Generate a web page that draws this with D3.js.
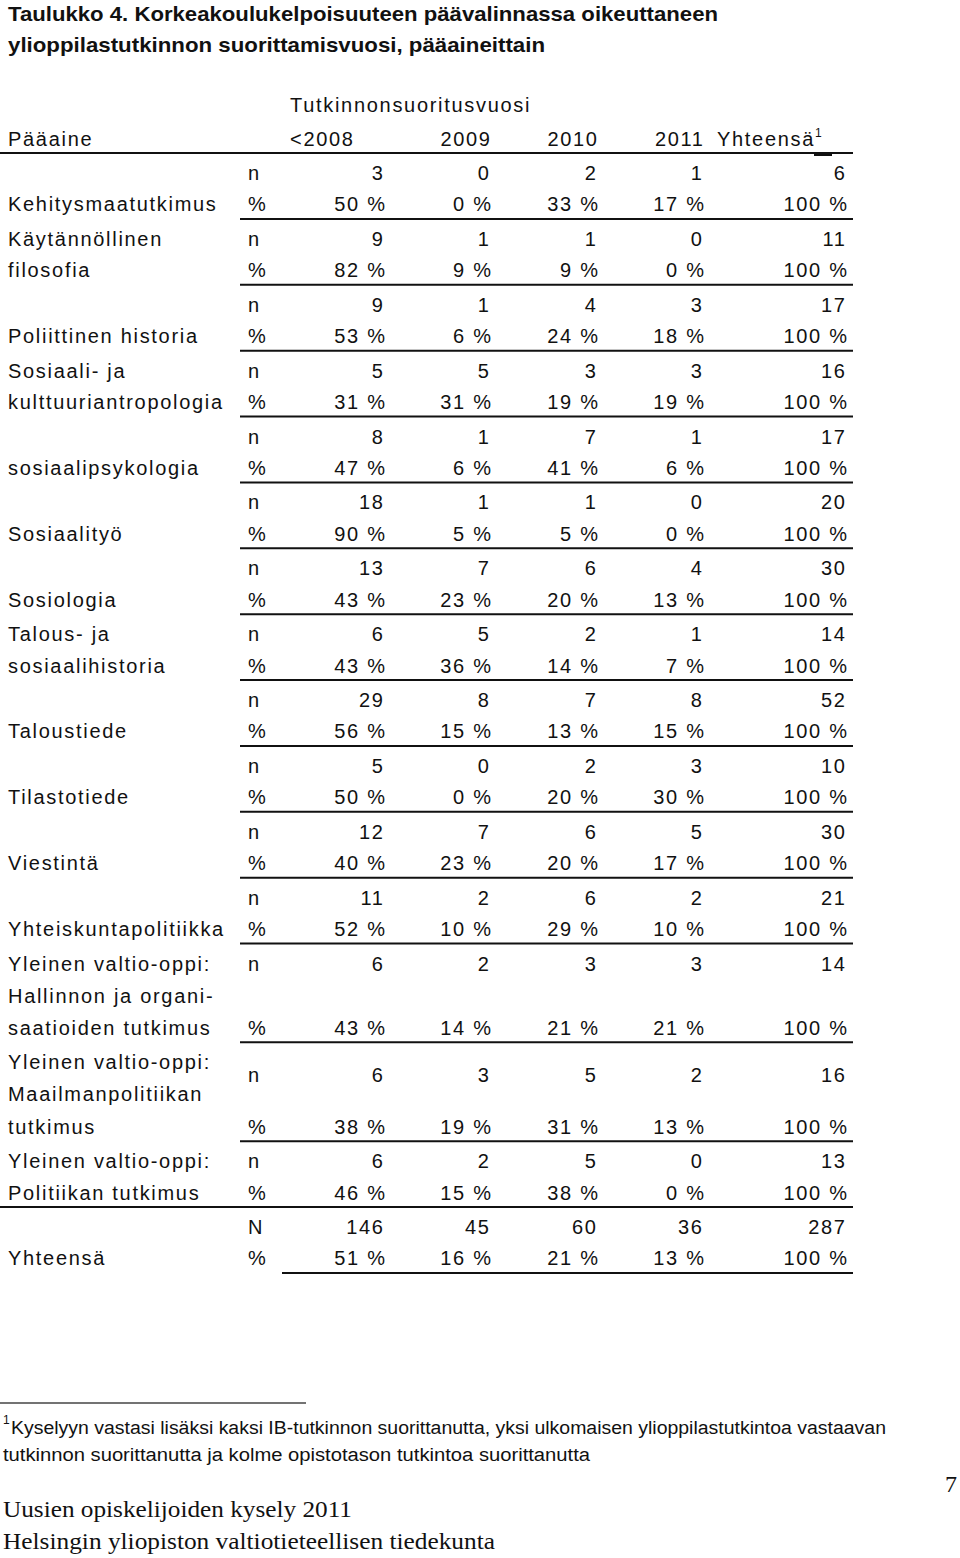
<!DOCTYPE html>
<html>
<head>
<meta charset="utf-8">
<script src="https://cdn.jsdelivr.net/npm/d3@7"></script>
<style>
  body { margin: 0; background: #fff; }
  svg text { fill: #111; }
  .body { font-family: "Liberation Sans", Arial, sans-serif; font-size: 20px; letter-spacing: 1.7px; }
  .title { font-family: "Liberation Sans", Arial, sans-serif; font-size: 21px; font-weight: bold; }
  .note { font-family: "Liberation Sans", Arial, sans-serif; font-size: 18px; }
  .serif { font-family: "Liberation Serif", "Times New Roman", serif; font-size: 24px; }
</style>
</head>
<body>
<div id="chart"></div>
<script>
// table content
let titleLines = [
  "Taulukko 4. Korkeakoulukelpoisuuteen päävalinnassa oikeuttaneen",
  "ylioppilastutkinnon suorittamisvuosi, pääaineittain"
];
let spanHeader = "Tutkinnonsuoritusvuosi";
let firstHeader = "Pääaine";
let columns = ["<2008", "2009", "2010", "2011", "Yhteensä"];

// label lines per subject (first line sits on the n row, last on the % row)
let subjects = [
  ["", "Kehitysmaatutkimus"],
  ["Käytännöllinen", "filosofia"],
  ["", "Poliittinen historia"],
  ["Sosiaali- ja", "kulttuuriantropologia"],
  ["", "sosiaalipsykologia"],
  ["", "Sosiaalityö"],
  ["", "Sosiologia"],
  ["Talous- ja", "sosiaalihistoria"],
  ["", "Taloustiede"],
  ["", "Tilastotiede"],
  ["", "Viestintä"],
  ["", "Yhteiskuntapolitiikka"],
  ["Yleinen valtio-oppi:", "Hallinnon ja organi-", "saatioiden tutkimus"],
  ["Yleinen valtio-oppi:", "Maailmanpolitiikan", "tutkimus"],
  ["Yleinen valtio-oppi:", "Politiikan tutkimus"]
];
let nValues = [
  [3, 0, 2, 1, 6],
  [9, 1, 1, 0, 11],
  [9, 1, 4, 3, 17],
  [5, 5, 3, 3, 16],
  [8, 1, 7, 1, 17],
  [18, 1, 1, 0, 20],
  [13, 7, 6, 4, 30],
  [6, 5, 2, 1, 14],
  [29, 8, 7, 8, 52],
  [5, 0, 2, 3, 10],
  [12, 7, 6, 5, 30],
  [11, 2, 6, 2, 21],
  [6, 2, 3, 3, 14],
  [6, 3, 5, 2, 16],
  [6, 2, 5, 0, 13]
];
let pctValues = [
  [50, 0, 33, 17, 100],
  [82, 9, 9, 0, 100],
  [53, 6, 24, 18, 100],
  [31, 31, 19, 19, 100],
  [47, 6, 41, 6, 100],
  [90, 5, 5, 0, 100],
  [43, 23, 20, 13, 100],
  [43, 36, 14, 7, 100],
  [56, 15, 13, 15, 100],
  [50, 0, 20, 30, 100],
  [40, 23, 20, 17, 100],
  [52, 10, 29, 10, 100],
  [43, 14, 21, 21, 100],
  [38, 19, 31, 13, 100],
  [46, 15, 38, 0, 100]
];
let totalLabel = "Yhteensä";
let totalN = [146, 45, 60, 36, 287];
let totalPct = [51, 16, 21, 13, 100];

let footnote = [
  "Kyselyyn vastasi lisäksi kaksi IB-tutkinnon suorittanutta, yksi ulkomaisen ylioppilastutkintoa vastaavan",
  "tutkinnon suorittanutta ja kolme opistotason tutkintoa suorittanutta"
];
let footer = ["Uusien opiskelijoiden kysely 2011", "Helsingin yliopiston valtiotieteellisen tiedekunta"];
let pageNumber = "7";

// dimensions
let width = 960, height = 1558;
let ls = 1.7; // letter spacing, shifts right aligned text

let svg = d3.select("#chart").append("svg")
  .attr("width", width)
  .attr("height", height);

// groups: subjects + total row
let groups = subjects.map((s, i) => ({lines: s, n: nValues[i], pct: pctValues[i], nLabel: "n"}));
groups.push({lines: ["", totalLabel], n: totalN, pct: totalPct, nLabel: "N", total: true});

// vertical layout: each group takes max(2, lines) units
groups.forEach(g => g.units = Math.max(2, g.lines.length));
let cum = 0;
groups.forEach(g => { g.start = cum; cum += g.units; g.end = cum; });
let lastSubject = groups[groups.length - 2].end;
let y = d3.scaleLinear().domain([0, lastSubject]).range([153, 1207]);

// columns (right edges of numbers)
let x = d3.scaleOrdinal().domain(columns).range([385, 491, 598, 704, 847]);
let unitX = 248, labelX = 8, lineStart = 240, lineEnd = 853;

// title
svg.selectAll("text.title")
  .data(titleLines)
  .enter().append("text")
  .attr("class", "title")
  .attr("x", 8)
  .attr("y", (d, i) => 21 + i * 31)
  .attr("textLength", (d, i) => i === 0 ? 710 : 537)
  .attr("lengthAdjust", "spacingAndGlyphs")
  .text(d => d);

// header
let header = svg.append("g").attr("class", "body");
header.append("text").attr("x", 290).attr("y", 112).text(spanHeader);
header.append("text").attr("x", labelX).attr("y", 146).text(firstHeader);
header.selectAll("text.col")
  .data(columns)
  .enter().append("text")
  .attr("class", "col")
  .attr("x", (d, i) => i === 0 ? 290 : (i === 4 ? 717 : x(d) + ls - 1))
  .attr("y", 146)
  .attr("text-anchor", (d, i) => (i === 0 || i === 4) ? "start" : "end")
  .text(d => d);
header.append("text")
  .attr("x", 815).attr("y", 137)
  .style("font-size", "12px").style("letter-spacing", "0px")
  .text("1");

// rules
svg.append("line")
  .attr("x1", 0).attr("x2", lineEnd)
  .attr("y1", 153).attr("y2", 153)
  .attr("stroke", "#111").attr("stroke-width", 2);
svg.append("line")
  .attr("x1", 814).attr("x2", 832)
  .attr("y1", 154.5).attr("y2", 154.5)
  .attr("stroke", "#111").attr("stroke-width", 3);

// group edges in px
groups.forEach(g => {
  g.top = g.total ? y(lastSubject) : y(g.start);
  g.bottom = g.total ? g.top + (y(2) - y(0)) : y(g.end);
});

function rowY(g, k) {
  // baseline for label line k inside the group
  let first = g.top + 27, last = g.bottom - 7.5;
  let count = Math.max(2, g.lines.length);
  return first + (last - first) * k / (count - 1);
}

let rows = svg.selectAll("g.group")
  .data(groups)
  .enter().append("g")
  .attr("class", "group body");

rows.each(function(g, gi) {
  let el = d3.select(this);
  let last = Math.max(2, g.lines.length) - 1;
  // n row sits a little lower beside the Maailmanpolitiikan block
  let nAt = gi === 13 ? 0.4 : 0;

  el.selectAll("text.label")
    .data(g.lines)
    .enter().append("text")
    .attr("class", "label")
    .attr("x", labelX)
    .attr("y", (d, k) => rowY(g, k))
    .text(d => d);

  el.append("text").attr("x", unitX).attr("y", rowY(g, nAt)).text(g.nLabel);
  el.append("text").attr("x", unitX).attr("y", rowY(g, last)).text("%");

  el.selectAll("text.n")
    .data(g.n)
    .enter().append("text")
    .attr("class", "n")
    .attr("x", (d, i) => x(columns[i]) + ls - 2)
    .attr("y", rowY(g, nAt))
    .attr("text-anchor", "end")
    .text(d => d);

  el.selectAll("text.pct")
    .data(g.pct)
    .enter().append("text")
    .attr("class", "pct")
    .attr("x", (d, i) => x(columns[i]) + ls)
    .attr("y", rowY(g, last))
    .attr("text-anchor", "end")
    .text(d => d + " %");

  el.append("line")
    .attr("x1", g.total ? 282 : (gi === groups.length - 2 ? 0 : lineStart))
    .attr("x2", lineEnd)
    .attr("y1", g.bottom).attr("y2", g.bottom)
    .attr("stroke", "#111").attr("stroke-width", 2);
});

// footnote
svg.append("line")
  .attr("x1", 0).attr("x2", 306)
  .attr("y1", 1403).attr("y2", 1403)
  .attr("stroke", "#444").attr("stroke-width", 1.5);
svg.append("text").attr("class", "note")
  .attr("x", 3).attr("y", 1424)
  .style("font-size", "12px")
  .text("1");
svg.selectAll("text.fn")
  .data(footnote)
  .enter().append("text")
  .attr("class", "note fn")
  .attr("x", (d, i) => i === 0 ? 11 : 3)
  .attr("y", (d, i) => 1434 + i * 27)
  .attr("textLength", (d, i) => i === 0 ? 875 : 587)
  .attr("lengthAdjust", "spacingAndGlyphs")
  .text(d => d);

// page footer
svg.append("text").attr("class", "serif")
  .attr("x", 957).attr("y", 1492)
  .attr("text-anchor", "end")
  .text(pageNumber);
svg.selectAll("text.foot")
  .data(footer)
  .enter().append("text")
  .attr("class", "serif foot")
  .attr("x", 3)
  .attr("y", (d, i) => 1517 + i * 32)
  .attr("textLength", (d, i) => i === 0 ? 349 : 492)
  .attr("lengthAdjust", "spacingAndGlyphs")
  .text(d => d);
</script>
</body>
</html>
